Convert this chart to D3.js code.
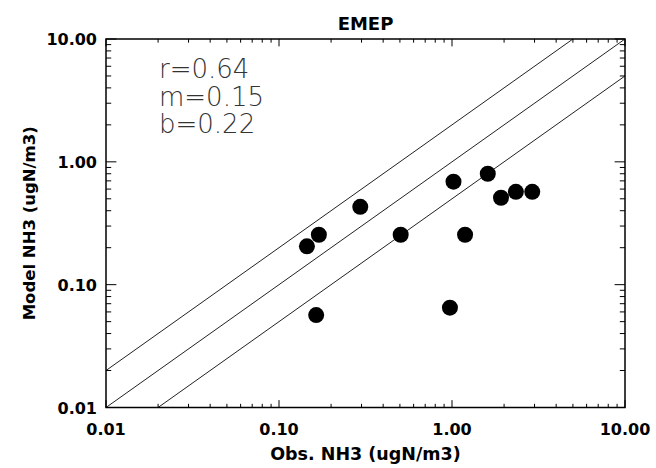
<!DOCTYPE html>
<html>
<head>
<meta charset="utf-8">
<script src="https://cdn.jsdelivr.net/npm/d3@7"></script>
<style>
  html, body { margin: 0; padding: 0; background: #fff; }
  svg { display: block; }
  .lbl { font-family: "DejaVu Sans", sans-serif; font-weight: bold; fill: #000; }
</style>
</head>
<body>
<svg id="chart" width="656" height="468"></svg>
<script>
// ---- data ----
const obsNH3   = [0.145, 0.170, 0.295, 0.164, 0.505, 1.02, 1.61, 1.19, 0.973, 1.92, 2.34, 2.91];
const modelNH3 = [0.205, 0.255, 0.43, 0.0565, 0.255, 0.69, 0.80, 0.255, 0.065, 0.51, 0.57, 0.57];
const majorTicks = [0.01, 0.1, 1, 10];
const ratioLines = [2, 1, 0.5];
const statsText = ["r=0.64", "m=0.15", "b=0.22"];
const titleText = "EMEP";
const xLabel = "Obs. NH3 (ugN/m3)";
const yLabel = "Model NH3 (ugN/m3)";

// ---- layout ----
const L = 106, R = 625, T = 39, B = 407.5;
const svg = d3.select("#chart");
const x = d3.scaleLog().domain([0.01, 10]).range([L, R]);
const y = d3.scaleLog().domain([0.01, 10]).range([B, T]);

const minorTicks = [];
for (let d = 0; d < majorTicks.length - 1; d++) {
  for (let k = 2; k <= 9; k++) minorTicks.push(majorTicks[d] * k);
}
const fmt = d3.format(".2f");
// tick length as a fraction of the plot size (IDL style)
const xLenMajor = 0.02 * (B - T), yLenMajor = 0.02 * (R - L);
const tickMarks = majorTicks.map(v => ({v: v, f: 1})).concat(minorTicks.map(v => ({v: v, f: 0.5})));

// ---- clip for lines ----
svg.append("clipPath").attr("id", "plotclip")
  .append("rect").attr("x", L).attr("y", T).attr("width", R - L).attr("height", B - T);

// ratio lines
const lineGen = d3.line().x(d => x(d[0])).y(d => y(d[1]));
const gLines = svg.append("g").attr("clip-path", "url(#plotclip)");
ratioLines.forEach(r => {
  const pts = [[0.001, 0.001 * r], [100, 100 * r]];
  gLines.append("path").attr("d", lineGen(pts))
    .attr("fill", "none").attr("stroke", "#222").attr("stroke-width", 1);
});

// points
svg.append("g").selectAll("circle")
  .data(obsNH3.map((v, i) => [v, modelNH3[i]]))
  .join("circle")
  .attr("cx", d => x(d[0])).attr("cy", d => y(d[1]))
  .attr("r", 8).attr("fill", "#000");

// box
svg.append("rect").attr("x", L).attr("y", T).attr("width", R - L).attr("height", B - T)
  .attr("fill", "none").attr("stroke", "#000").attr("stroke-width", 1.5);

// tick marks on all four sides, pointing inward
const tickPath = [];
tickMarks.forEach(d => {
  const px = x(d.v), py = y(d.v);
  const lx = xLenMajor * d.f, ly = yLenMajor * d.f;
  tickPath.push("M" + px + "," + B + "V" + (B - lx));
  tickPath.push("M" + px + "," + T + "V" + (T + lx));
  tickPath.push("M" + L + "," + py + "H" + (L + ly));
  tickPath.push("M" + R + "," + py + "H" + (R - ly));
});
svg.append("path").attr("d", tickPath.join(" "))
  .attr("fill", "none").attr("stroke", "#000").attr("stroke-width", 1);

// tick labels
svg.append("g").selectAll("text").data(majorTicks).join("text").attr("class", "lbl")
  .attr("x", d => x(d)).attr("y", B + 27).attr("text-anchor", "middle")
  .style("font-size", "16px").text(fmt);
svg.append("g").selectAll("text").data(majorTicks).join("text").attr("class", "lbl")
  .attr("x", L - 9).attr("y", d => y(d) + 6).attr("text-anchor", "end")
  .style("font-size", "16px").text(fmt);

// stats text
svg.append("g").selectAll("text").data(statsText).join("text")
  .attr("x", 159).attr("y", (d, i) => 78 + i * 27.5)
  .style("font-family", "'DejaVu Sans', sans-serif").style("font-weight", "200")
  .style("font-size", "26px").attr("fill", "#333")
  .text(d => d);

// title and axis labels
svg.append("text").attr("class", "lbl").attr("x", (L + R) / 2).attr("y", 30)
  .attr("text-anchor", "middle").style("font-size", "18px").text(titleText);
svg.append("text").attr("class", "lbl").attr("x", (L + R) / 2).attr("y", 460)
  .attr("text-anchor", "middle").style("font-size", "17.5px").text(xLabel);
svg.append("text").attr("class", "lbl")
  .attr("transform", `translate(35,${(T + B) / 2}) rotate(-90)`)
  .attr("text-anchor", "middle").style("font-size", "16.5px").text(yLabel);
</script>
</body>
</html>
